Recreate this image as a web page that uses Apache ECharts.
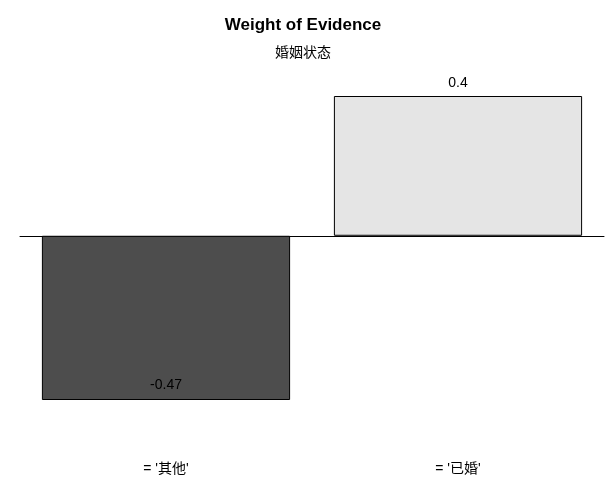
<!DOCTYPE html>
<html><head><meta charset="utf-8">
<script src="https://cdn.jsdelivr.net/npm/echarts@6/dist/echarts.min.js"></script>
<style>html,body{margin:0;background:#fff}#c{width:606px;height:499px}</style>
</head><body><div id="c"></div>
<script>
var categories=["= '其他'","= '已婚'"];
var woe=[-0.47,0.4];
var colors=['#4d4d4d','#e5e5e5'];

var chart=echarts.init(document.getElementById('c'));
var data=woe.map(function(v,i){
  return {value:v,itemStyle:{color:colors[i]},
    label:{position:v<0?'insideBottom':'top',distance:v<0?8:6}};
});
chart.setOption({
  animation:false,
  textStyle:{fontFamily:'Arial, "Noto Sans CJK SC", sans-serif'},
  title:{left:'center',top:12,text:'Weight of Evidence',subtext:'婚姻状态',itemGap:12,
    textStyle:{fontSize:17,fontWeight:'bold',color:'#000'},
    subtextStyle:{fontSize:14,color:'#000'}},
  grid:{left:20,right:2,top:96,bottom:99},
  xAxis:[
    {type:'category',data:categories,axisLine:{onZero:true,lineStyle:{color:'#000'}},
     axisTick:{show:false},axisLabel:{show:false}},
    {type:'category',data:categories,position:'bottom',axisLine:{show:false},
     axisTick:{show:false},axisLabel:{margin:62,fontSize:14,color:'#000'}}
  ],
  yAxis:{type:'value',min:-0.47,max:0.4,show:false,splitLine:{show:false}},
  series:[{type:'bar',data:data,barCategoryGap:'15%',
    itemStyle:{borderColor:'#000',borderWidth:1},
    label:{show:true,color:'#000',fontSize:14,formatter:function(p){return p.value;}}}]
});
</script></body></html>
